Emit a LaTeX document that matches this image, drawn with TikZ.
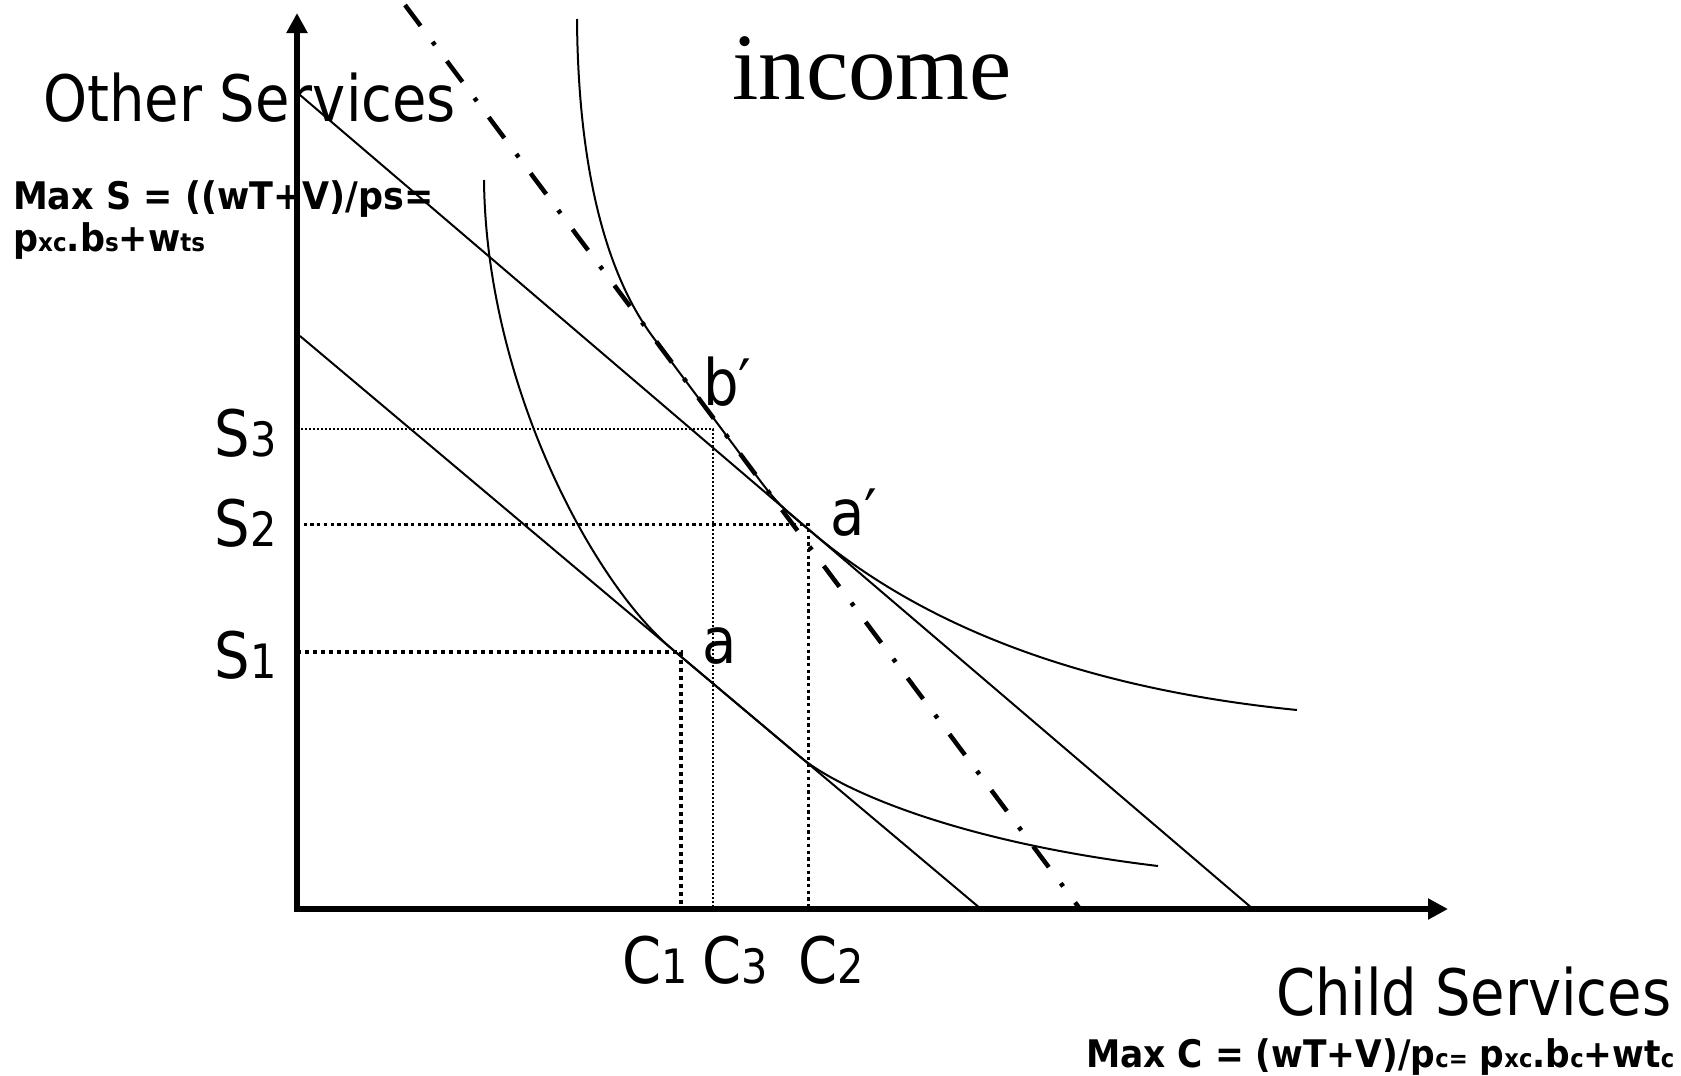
\documentclass[tikz,border=0pt]{standalone}
\usepackage{fontspec}
\usetikzlibrary{arrows.meta}
\newfontfamily\labfont[FakeStretch=0.875]{DejaVu Sans}
\newfontfamily\bfont[FakeStretch=0.92]{DejaVu Sans Bold}
\newfontfamily\serfont{Liberation Serif}
\newcommand\subs[1]{\scalebox{0.66}{#1}}
\newcommand\labsub[1]{\scalebox{0.74}{#1}}
\tikzset{
 lab/.style={inner sep=0pt, font=\labfont\fontsize{64pt}{70pt}\selectfont},
 formula/.style={inner sep=0pt, font=\bfont\fontsize{38pt}{44pt}\selectfont},
 axisline/.style={line width=6pt, {Triangle[length=20pt,width=20pt]}-{Triangle[length=20pt,width=20pt]}},
 budget/.style={line width=2pt},
 icurve/.style={line width=2pt},
 dashdotline/.style={line width=4.5pt, dash pattern=on 26pt off 20pt on 4pt off 20pt},
 dotthick/.style={line width=4pt, dash pattern=on 4pt off 4pt},
 dotmed/.style={line width=3pt, dash pattern=on 3.3pt off 3.4pt},
 dotthin/.style={line width=1.5pt, dash pattern=on 2pt off 2pt},
}
\begin{document}
\begin{tikzpicture}[x=1pt,y=-1pt]
\useasboundingbox (0,0) rectangle (1681,1076);
% key points
\coordinate (O) at (297,909);
\coordinate (Ytip) at (297,13);
\coordinate (Xtip) at (1448,909);
\coordinate (L1a) at (300,336);
\coordinate (L1b) at (981,909);
\coordinate (L2a) at (300,95);
\coordinate (L2b) at (1253,909);
\coordinate (Da) at (405,5);
\coordinate (Db) at (1080,909);
\coordinate (S1) at (297,652);
\coordinate (S2) at (297,524);
\coordinate (S3) at (297,429);
\coordinate (P1) at (681,652);
\coordinate (P2) at (808,524);
\coordinate (P3) at (713,429);
\coordinate (C1) at (681,909);
\coordinate (C2) at (808,909);
\coordinate (C3) at (713,909);
% dotted guides
\draw[dotthin] (S3) -- (P3) -- (C3);
\draw[dotmed] (S2) -- (P2) -- (C2);
\draw[dotthick] (S1) -- (P1) -- (C1);
% budget lines
\draw[budget] (L1a) -- (L1b);
\draw[budget] (L2a) -- (L2b);
% dash-dot line
\draw[dashdotline] (Da) -- (Db);
% lower indifference curve
\draw[icurve] (484,180) .. controls (486,383) and (592,581.7) .. (672,649)
  -- (800,756.7) .. controls (840,790.4) and (958,842) .. (1158,866);
% upper indifference curve
\draw[icurve] (577,19) .. controls (578,160) and (603,270) .. (653,337.1)
  -- (745,460.4) .. controls (776.2,502.6) .. (810,530.6)
  .. controls (930,633) and (1097,690) .. (1297,710);
% axes
\draw[axisline] (Ytip) -- (O) -- (Xtip);
% labels
\node[lab, anchor=base west] (ylab) at (43,121) {Other Services};
\node[lab, anchor=base west] (xlab) at (1276,1015) {Child Services};
\node[inner sep=0pt, anchor=base west, font=\serfont\fontsize{95pt}{100pt}\selectfont] (inc) at (732,99) {income};
\node[formula, anchor=base west] (ms1) at (13,209) {Max S = ((wT+V)/ps=};
\node[formula, anchor=base west] (ms2) at (13,251) {p\subs{xc}.b\subs{s}+w\subs{ts}};
\node[formula, anchor=base west] (mc) at (1086,1067) {\resizebox{588pt}{\height}{Max C = (wT+V)/p\subs{c=} p\subs{xc}.b\subs{c}+wt\subs{c}}};
\node[lab, anchor=base east] (s3l) at (277,456) {S\labsub{3}};
\node[lab, anchor=base east] (s2l) at (277,546) {S\labsub{2}};
\node[lab, anchor=base east] (s1l) at (277,678) {S\labsub{1}};
\node[lab, anchor=base west] (c1l) at (622,983) {C\labsub{1}};
\node[lab, anchor=base west] (c3l) at (702,983) {C\labsub{3}};
\node[lab, anchor=base west] (c2l) at (798,983) {C\labsub{2}};
\node[lab, anchor=base west] (bp) at (703,405) {b′};
\node[lab, anchor=base west] (ap) at (830,535) {a′};
\node[lab, anchor=base west] (al) at (702,663) {a};
\end{tikzpicture}
\end{document}
